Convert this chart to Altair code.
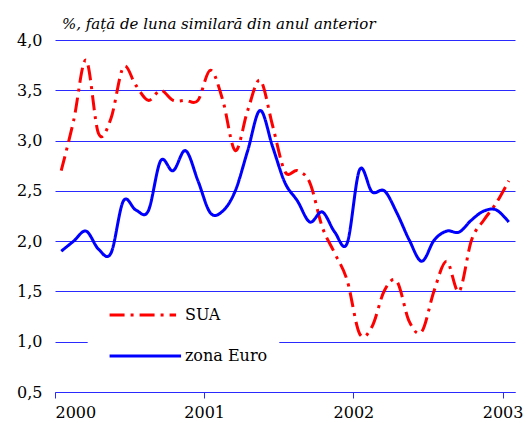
import altair as alt
import pandas as pd

# Monthly data, Jan 2000 .. Jan 2003 (37 months)
sua = [2.70, 3.20, 3.80, 3.07, 3.22, 3.73, 3.55, 3.40, 3.50, 3.40, 3.40, 3.40,
       3.70, 3.40, 2.90, 3.30, 3.60, 3.15, 2.69, 2.70, 2.58, 2.14, 1.88, 1.61,
       1.08, 1.15, 1.51, 1.60, 1.20, 1.10, 1.51, 1.80, 1.50, 2.01, 2.21, 2.38,
       2.60]
euro = [1.90, 2.00, 2.10, 1.92, 1.88, 2.40, 2.31, 2.30, 2.80, 2.70, 2.90, 2.60,
        2.28, 2.30, 2.50, 2.90, 3.30, 2.94, 2.58, 2.40, 2.19, 2.29, 2.09, 1.98,
        2.71, 2.49, 2.50, 2.28, 2.01, 1.80, 2.01, 2.10, 2.09, 2.21, 2.30, 2.31,
        2.19]
series_names = ["SUA", "zona Euro"]
year_ticks = [0, 12, 24, 36]
y_ticks = [0.5, 1.0, 1.5, 2.0, 2.5, 3.0, 3.5, 4.0]
title_text = ["%, față de luna similară din anul anterior"]

rows = []
for i, v in enumerate(sua):
    rows.append({"series": "SUA", "month": i + 0.5, "value": v})
for i, v in enumerate(euro):
    rows.append({"series": "zona Euro", "month": i + 0.5, "value": v})
df = pd.DataFrame(rows)

FONT = "DejaVu Serif"
GRID = "#2a2aff"

xscale = alt.Scale(domain=[0, 37], nice=False, zero=False)
yscale = alt.Scale(domain=[0.5, 4.0], nice=False, zero=False)
color = alt.Color("series:N", scale=alt.Scale(domain=series_names, range=["#ff0000", "#0000ff"]), legend=None)
dash = alt.StrokeDash("series:N", scale=alt.Scale(domain=series_names, range=[[15, 6, 3, 6], [1, 0]]), legend=None)

lines = alt.Chart(df).mark_line(strokeWidth=3, interpolate="cardinal").encode(
    x=alt.X("month:Q", scale=xscale,
            axis=alt.Axis(values=year_ticks, title=None, grid=False,
                          labelExpr="toString(2000 + datum.value / 12)",
                          domainColor=GRID, tickColor=GRID, tickSize=6,
                          labelPadding=6, labelFont=FONT, labelFontSize=16,
                          labelColor="#000000")),
    y=alt.Y("value:Q", scale=yscale,
            axis=alt.Axis(values=y_ticks, title=None, grid=True, gridColor=GRID,
                          gridWidth=1, domain=False, ticks=False,
                          labelExpr="replace(format(datum.value, '.1f'), '.', ',')",
                          labelPadding=13, labelFont=FONT, labelFontSize=16,
                          labelColor="#000000")),
    color=color,
    strokeDash=dash,
)

# Legend (drawn inside the plot, in data coordinates)
box = pd.DataFrame([{"x": 2.63, "x2": 18.04, "y": 0.70, "y2": 1.454}])
legend_box = alt.Chart(box).mark_rect(fill="white").encode(
    x="x:Q", x2="x2:Q", y="y:Q", y2="y2:Q")

leg = pd.DataFrame({
    "series": series_names,
    "x": [4.39, 4.39],
    "x2": [9.74, 10.14],
    "y": [1.265, 0.858],
    "tx": [10.45, 10.45],
})
legend_lines = alt.Chart(leg).mark_rule(strokeWidth=3).encode(
    x="x:Q", x2="x2:Q", y="y:Q", color=color, strokeDash=dash)
legend_text = alt.Chart(leg).mark_text(font=FONT, fontSize=16, align="left",
                                       baseline="middle", color="#000000").encode(
    x="tx:Q", y="y:Q", text="series:N")

title = alt.Chart(pd.DataFrame({"t": title_text})).mark_text(
    font=FONT, fontSize=15, fontStyle="italic", align="left", baseline="alphabetic",
    color="#000000").encode(x=alt.value(7), y=alt.value(-11), text="t:N")

chart = alt.layer(lines, legend_box, legend_lines, legend_text, title).properties(
    width=460, height=352,
    autosize=alt.AutoSizeParams(type="none"),
    padding={"left": 47, "top": 32, "right": 8, "bottom": 31},
).configure_view(stroke=None)

chart.save("out.html", embed_options={"renderer": "svg", "actions": False})
